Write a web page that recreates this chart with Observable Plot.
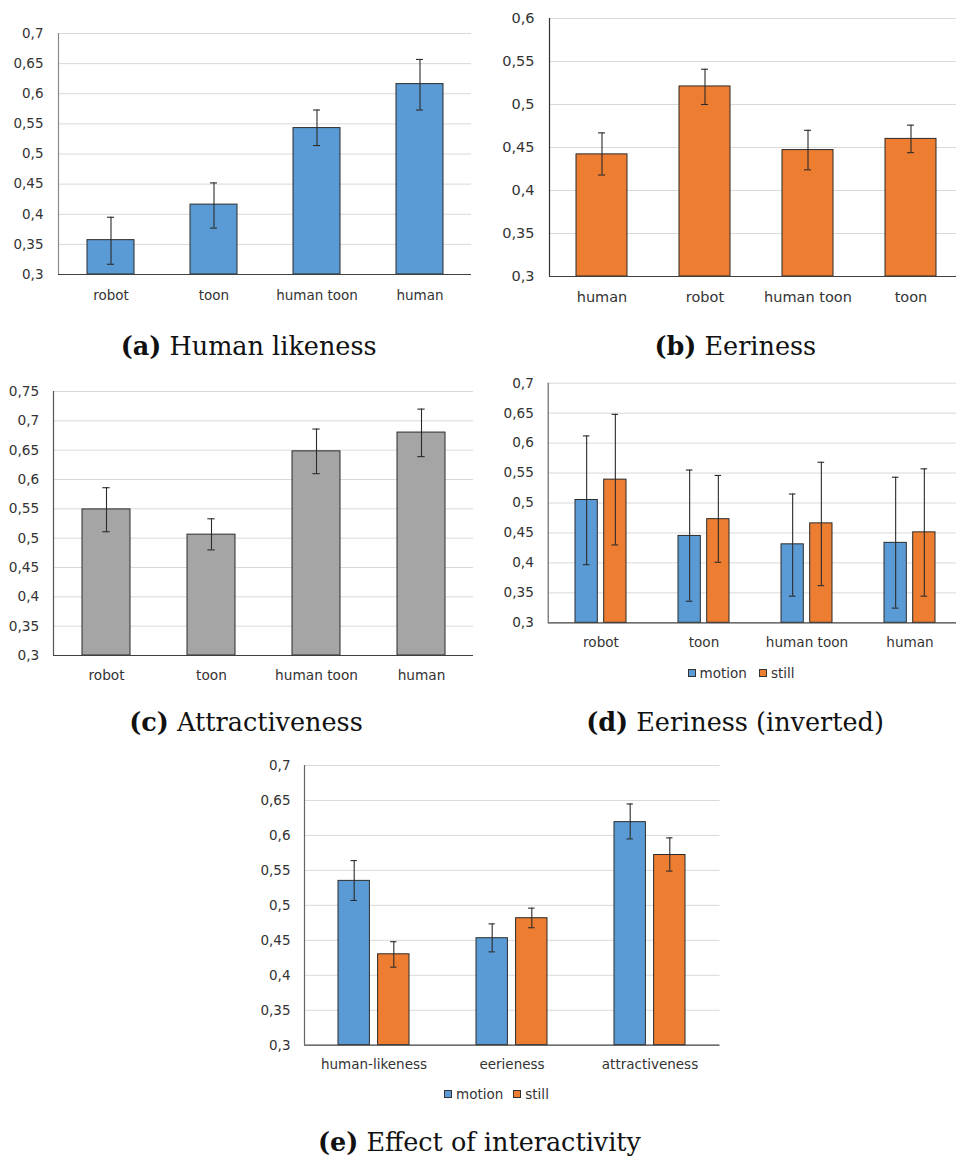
<!DOCTYPE html>
<html>
<head>
<meta charset="utf-8">
<script src="https://cdn.jsdelivr.net/npm/d3@7"></script>
<script src="https://cdn.jsdelivr.net/npm/@observablehq/plot@0.6"></script>
<style>
  html, body { margin: 0; padding: 0; background: #fff; }
  #page { position: relative; width: 956px; height: 1158px; overflow: hidden; background: #fff; }
  .panel { position: absolute; }
  .caption { position: absolute; width: 440px; text-align: center; font-family: "DejaVu Serif", serif; font-size: 25.5px; line-height: 25.5px; color: #111; white-space: nowrap; }
  .caption b { font-weight: bold; }
  .leg { position: absolute; display: flex; align-items: center; font-family: "DejaVu Sans", sans-serif; font-size: 13.5px; line-height: 16px; color: #333; white-space: nowrap; }
  .sw { display: inline-block; width: 6px; height: 6px; border: 1px solid #333; margin-right: 4px; }
</style>
</head>
<body>
<div id="page"></div>
<script>
// ---------- data ----------
const series = ["motion", "still"];
const colMotion = "#5B9BD5", colStill = "#ED7D31", colGray = "#A5A5A5";

// (a) Human likeness
const catsA = ["robot", "toon", "human toon", "human"];
const meanA = [0.357, 0.416, 0.543, 0.616];
const loA   = [0.317, 0.377, 0.514, 0.573];
const hiA   = [0.395, 0.452, 0.573, 0.657];
const ticksA = [0.3, 0.35, 0.4, 0.45, 0.5, 0.55, 0.6, 0.65, 0.7];

// (b) Eeriness
const catsB = ["human", "robot", "human toon", "toon"];
const meanB = [0.442, 0.521, 0.447, 0.460];
const loB   = [0.418, 0.500, 0.424, 0.444];
const hiB   = [0.467, 0.541, 0.470, 0.476];
const ticksB = [0.3, 0.35, 0.4, 0.45, 0.5, 0.55, 0.6];

// (c) Attractiveness
const catsC = ["robot", "toon", "human toon", "human"];
const meanC = [0.549, 0.506, 0.648, 0.680];
const loC   = [0.511, 0.480, 0.610, 0.639];
const hiC   = [0.586, 0.533, 0.686, 0.720];
const ticksC = [0.3, 0.35, 0.4, 0.45, 0.5, 0.55, 0.6, 0.65, 0.7, 0.75];

// (d) Eeriness (inverted)
const catsD = ["robot", "toon", "human toon", "human"];
const motionD   = [0.505, 0.445, 0.431, 0.4335];
const motionLoD = [0.397, 0.336, 0.3445, 0.3245];
const motionHiD = [0.612, 0.555, 0.515, 0.543];
const stillD    = [0.539, 0.473, 0.466, 0.451];
const stillLoD  = [0.430, 0.401, 0.362, 0.3445];
const stillHiD  = [0.648, 0.546, 0.568, 0.557];
const ticksD = [0.3, 0.35, 0.4, 0.45, 0.5, 0.55, 0.6, 0.65, 0.7];

// (e) Effect of interactivity
const catsE = ["human-likeness", "eerieness", "attractiveness"];
const motionE   = [0.535, 0.453, 0.619];
const motionLoE = [0.507, 0.4335, 0.595];
const motionHiE = [0.564, 0.4735, 0.645];
const stillE    = [0.430, 0.4816, 0.572];
const stillLoE  = [0.4116, 0.468, 0.549];
const stillHiE  = [0.448, 0.496, 0.5965];
const ticksE = [0.3, 0.35, 0.4, 0.45, 0.5, 0.55, 0.6, 0.65, 0.7];

// ---------- helpers ----------
const fmt = d => d.toFixed(2).replace(/0$/, "").replace(".", ",");
const page = document.getElementById("page");
const barStroke = "#2b2b2b", errStroke = "#2b2b2b";

function yAxisLine(color) {
  return (index, scales, values, dims) => {
    const x = dims.marginLeft + 0.5;
    return d3.create("svg:line")
      .attr("x1", x).attr("x2", x)
      .attr("y1", dims.marginTop).attr("y2", dims.height - dims.marginBottom)
      .attr("stroke", color).attr("stroke-width", 1.2).node();
  };
}

function place(node, left, top, w) {
  const d = document.createElement("div");
  d.className = "panel";
  d.style.left = left + "px";
  d.style.top = top + "px";
  d.style.width = w + "px";
  node.style.maxWidth = "none";
  d.appendChild(node);
  page.appendChild(d);
}

function rows(cats, v, lo, hi) {
  return cats.map((c, i) => ({cat: c, v: v[i], lo: lo[i], hi: hi[i]}));
}

function baseOpts(o) {
  return {
    width: o.width, height: o.height,
    marginLeft: o.ml, marginRight: o.mr, marginTop: o.mt, marginBottom: o.mb,
    style: `font-family: 'DejaVu Sans', sans-serif; font-size: ${o.fs}px; color: #333; background: transparent; overflow: visible; max-width: none;`,
    x: {domain: o.cats, paddingInner: o.pad, paddingOuter: o.pad / 2, align: 0.5, label: null, axis: null},
    y: {domain: [o.ticks[0], o.ticks[o.ticks.length - 1]], label: null, axis: null}
  };
}

function axes(o) {
  return [
    Plot.ruleY([o.ticks[0]], {stroke: "#404040", strokeWidth: 1.2}),
    yAxisLine(o.yColor),
    Plot.axisY({ticks: o.ticks, tickFormat: fmt, tickSize: 0, tickPadding: o.tpy, label: null, fill: "#333"}),
    Plot.axisX({tickSize: 0, tickPadding: o.tpx, label: null, fill: "#333"})
  ];
}

function single(o) {
  const data = rows(o.cats, o.mean, o.lo, o.hi);
  const bw = (o.width - o.ml - o.mr) / o.cats.length * (1 - o.pad);
  const capInset = (bw - 7) / 2;
  const opts = baseOpts(o);
  opts.marks = [
    Plot.gridY(o.ticks.slice(1), {stroke: "#d9d9d9", strokeOpacity: 1}),
    Plot.barY(data, {x: "cat", y1: o.ticks[0], y2: "v", fill: o.fill, stroke: barStroke, strokeWidth: 1}),
    Plot.ruleX(data, {x: "cat", y1: "lo", y2: "hi", stroke: errStroke, strokeWidth: 1.1}),
    Plot.tickY(data, {x: "cat", y: "lo", insetLeft: capInset, insetRight: capInset, stroke: errStroke, strokeWidth: 1.1}),
    Plot.tickY(data, {x: "cat", y: "hi", insetLeft: capInset, insetRight: capInset, stroke: errStroke, strokeWidth: 1.1}),
    ...axes(o)
  ];
  return Plot.plot(opts);
}

function grouped(o) {
  const dm = rows(o.cats, o.motion, o.motionLo, o.motionHi);
  const ds = rows(o.cats, o.still, o.stillLo, o.stillHi);
  const bw = (o.width - o.ml - o.mr) / o.cats.length * (1 - o.pad);
  const inset = bw - o.barW;
  const off = (bw - o.barW) / 2;
  const capInset = (bw - 7) / 2;
  const opts = baseOpts(o);
  const err = (d, dx) => [
    Plot.ruleX(d, {x: "cat", y1: "lo", y2: "hi", dx, stroke: errStroke, strokeWidth: 1.1}),
    Plot.tickY(d, {x: "cat", y: "lo", dx, insetLeft: capInset, insetRight: capInset, stroke: errStroke, strokeWidth: 1.1}),
    Plot.tickY(d, {x: "cat", y: "hi", dx, insetLeft: capInset, insetRight: capInset, stroke: errStroke, strokeWidth: 1.1})
  ];
  opts.marks = [
    Plot.gridY(o.ticks.slice(1), {stroke: "#d9d9d9", strokeOpacity: 1}),
    Plot.barY(dm, {x: "cat", y1: o.ticks[0], y2: "v", insetRight: inset, fill: colMotion, stroke: barStroke, strokeWidth: 1}),
    Plot.barY(ds, {x: "cat", y1: o.ticks[0], y2: "v", insetLeft: inset, fill: colStill, stroke: barStroke, strokeWidth: 1}),
    ...err(dm, -off),
    ...err(ds, off),
    ...axes(o)
  ];
  return Plot.plot(opts);
}

function caption(letter, text, center, top) {
  const d = document.createElement("div");
  d.className = "caption";
  d.style.left = (center - 220) + "px";
  d.style.top = top + "px";
  const b = document.createElement("b");
  b.textContent = `(${letter})`;
  d.appendChild(b);
  d.appendChild(document.createTextNode(" " + text));
  page.appendChild(d);
}

function legend(items) {
  items.forEach(([label, color, left, top]) => {
    const d = document.createElement("div");
    d.className = "leg";
    d.style.left = left + "px";
    d.style.top = top + "px";
    const s = document.createElement("span");
    s.className = "sw";
    s.style.background = color;
    d.appendChild(s);
    d.appendChild(document.createTextNode(label));
    page.appendChild(d);
  });
}

// ---------- panels ----------
place(single({cats: catsA, mean: meanA, lo: loA, hi: hiA, ticks: ticksA, fill: colMotion,
  width: 480, height: 320, ml: 58, mr: 9, mt: 33, mb: 46, pad: 0.545, fs: 13.5, tpx: 15.5, tpy: 15, yColor: "#8a8a8a"}), 0, 0, 480);

place(single({cats: catsB, mean: meanB, lo: loB, hi: hiB, ticks: ticksB, fill: colStill,
  width: 480, height: 320, ml: 59, mr: 7, mt: 18, mb: 44, pad: 0.507, fs: 14.5, tpx: 15, tpy: 15, yColor: "#333"}), 490, 0, 480);

place(single({cats: catsC, mean: meanC, lo: loC, hi: hiC, ticks: ticksC, fill: colGray,
  width: 480, height: 320, ml: 53, mr: 7, mt: 21, mb: 35, pad: 0.546, fs: 13.7, tpx: 14.5, tpy: 14.3, yColor: "#555"}), 0, 370, 480);

place(grouped({cats: catsD, motion: motionD, motionLo: motionLoD, motionHi: motionHiD,
  still: stillD, stillLo: stillLoD, stillHi: stillHiD, ticks: ticksD, barW: 22.7,
  width: 480, height: 280, ml: 57.7, mr: 7, mt: 12.7, mb: 27.7, pad: 0.505, fs: 13.6, tpx: 15, tpy: 14.4, yColor: "#666"}), 490, 370, 480);

place(grouped({cats: catsE, motion: motionE, motionLo: motionLoE, motionHi: motionHiE,
  still: stillE, stillLo: stillLoE, stillHi: stillHiE, ticks: ticksE, barW: 32,
  width: 490, height: 320, ml: 64, mr: 10.5, mt: 15, mb: 25.3, pad: 0.483, fs: 13.5, tpx: 14, tpy: 14, yColor: "#666"}), 240, 750, 490);

// ---------- legends ----------
legend([[series[0], colMotion, 687.5, 665], [series[1], colStill, 759, 665]]);
legend([[series[0], colMotion, 444, 1086], [series[1], colStill, 513.3, 1086]]);

// ---------- captions ----------
caption("a", "Human likeness", 248.7, 334);
caption("b", "Eeriness", 735.3, 334);
caption("c", "Attractiveness", 246, 710);
caption("d", "Eeriness (inverted)", 735, 710);
caption("e", "Effect of interactivity", 479.5, 1130);
</script>
</body>
</html>
